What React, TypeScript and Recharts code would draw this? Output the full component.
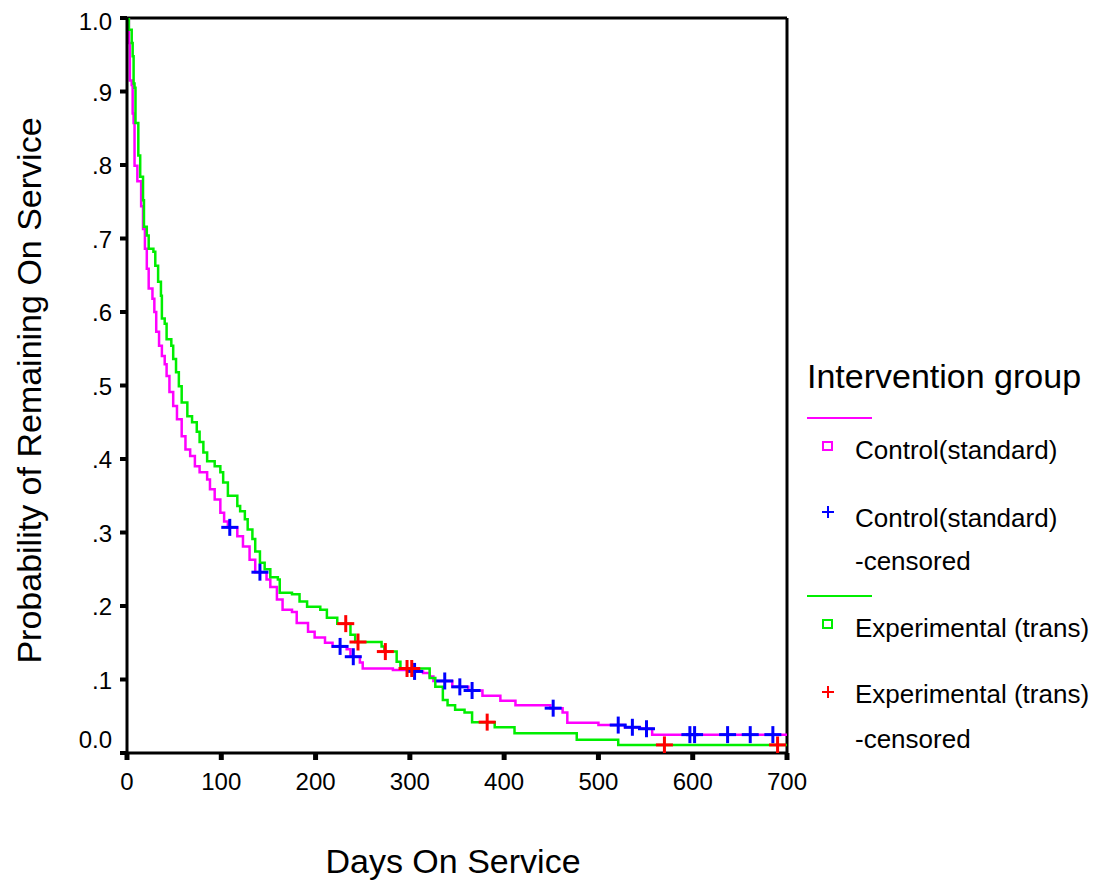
import { ComposedChart, Line, Scatter, XAxis, YAxis, ReferenceLine } from 'recharts';

const FONT = '"Liberation Sans", Arial, Helvetica, sans-serif';

const xTicks = [0, 100, 200, 300, 400, 500, 600, 700];
const yTicks = [0, 0.1, 0.2, 0.3, 0.4, 0.5, 0.6, 0.7, 0.8, 0.9, 1];

// Control (standard) - Kaplan-Meier steps
const controlDays = [
  0, 2, 3, 5, 6, 7, 8, 11, 15, 17, 19, 21, 23, 27, 29, 31, 34, 37, 40, 42,
  45, 49, 53, 58, 62, 67, 72, 77, 85, 88, 93, 99, 103, 107, 117, 123, 130, 136, 148, 152,
  159, 165, 175, 180, 192, 199, 210, 218, 233, 237, 247, 250, 282, 303, 314, 321, 325, 345, 362, 377,
  396, 412, 449, 462, 467, 500, 528, 544, 557, 700,
];
const controlSurv = [
  1.0, 0.966, 0.915, 0.909, 0.87, 0.857, 0.799, 0.778, 0.744, 0.713, 0.686, 0.659, 0.632, 0.618, 0.6, 0.573, 0.554, 0.54, 0.529, 0.513,
  0.491, 0.472, 0.454, 0.431, 0.413, 0.404, 0.39, 0.382, 0.372, 0.359, 0.345, 0.327, 0.315, 0.307, 0.295, 0.281, 0.263, 0.246, 0.236, 0.226,
  0.209, 0.195, 0.192, 0.177, 0.165, 0.157, 0.15, 0.145, 0.141, 0.131, 0.123, 0.115, 0.113, 0.111, 0.109, 0.104, 0.098, 0.09, 0.085, 0.078,
  0.071, 0.065, 0.061, 0.055, 0.041, 0.038, 0.035, 0.033, 0.025, 0.025,
];
const controlCensDays = [109, 141, 226, 240, 305, 337, 353, 366, 452, 521, 536, 551, 597, 602, 637, 661, 685];
const controlCensSurv = [0.307, 0.246, 0.145, 0.131, 0.111, 0.098, 0.09, 0.085, 0.061, 0.038, 0.035, 0.033, 0.025, 0.025, 0.025, 0.025, 0.025];

// Experimental (trans)
const expDays = [
  0, 2, 5, 6, 7, 8, 9, 12, 14, 17, 18, 21, 23, 28, 30, 33, 36, 37, 40, 42,
  47, 49, 52, 55, 58, 64, 69, 74, 77, 81, 85, 93, 99, 102, 107, 117, 120, 125, 128, 133,
  136, 141, 146, 152, 160, 162, 175, 183, 191, 205, 212, 223, 237, 242, 270, 273, 286, 290, 321, 327,
  335, 340, 348, 358, 366, 390, 411, 477, 521, 700,
];
const expSurv = [
  1.0, 0.984, 0.966, 0.948, 0.911, 0.905, 0.857, 0.813, 0.784, 0.752, 0.716, 0.704, 0.686, 0.682, 0.663, 0.641, 0.622, 0.591, 0.584, 0.563,
  0.554, 0.536, 0.518, 0.499, 0.477, 0.458, 0.45, 0.437, 0.423, 0.409, 0.397, 0.39, 0.382, 0.368, 0.35, 0.336, 0.329, 0.318, 0.304, 0.291,
  0.274, 0.259, 0.25, 0.239, 0.236, 0.218, 0.216, 0.206, 0.199, 0.195, 0.184, 0.176, 0.161, 0.151, 0.145, 0.138, 0.124, 0.115, 0.102, 0.09,
  0.072, 0.065, 0.059, 0.055, 0.042, 0.035, 0.027, 0.018, 0.011, 0.011,
];
const expCensDays = [232, 245, 274, 297, 302, 382, 570, 690];
const expCensSurv = [0.176, 0.151, 0.138, 0.115, 0.115, 0.042, 0.011, 0.011];

const toRows = (days: number[], surv: number[]) => days.map((d, i) => ({ day: d, surv: surv[i] }));

const controlData = toRows(controlDays, controlSurv);
const controlCens = toRows(controlCensDays, controlCensSurv);
const expData = toRows(expDays, expSurv);
const expCens = toRows(expCensDays, expCensSurv);

const MAGENTA = '#ff00ff';
const GREEN = '#00ee00';
const BLUE = '#0000ff';
const RED = '#ff0000';

const plusShape = (color: string) => (props: any) => {
  const { cx, cy } = props;
  return (
    <g>
      <line x1={cx - 8.5} x2={cx + 8.5} y1={cy} y2={cy} stroke={color} strokeWidth={3} />
      <line x1={cx} x2={cx} y1={cy - 8.5} y2={cy + 8.5} stroke={color} strokeWidth={3} />
    </g>
  );
};

function YTick(props: any) {
  const { x, y, payload } = props;
  const v = payload.value;
  const label = v === 0 ? '0.0' : v === 1 ? '1.0' : '.' + Math.round(v * 10);
  const dy = v === 0 ? -5 : v === 1 ? 12 : 9;
  return (
    <text x={x} y={y + dy} textAnchor="end" fontSize={24} fontFamily={FONT} fill="#000">
      {label}
    </text>
  );
}

function YTitle(props: any) {
  const { viewBox } = props;
  const cx = viewBox.x + 14;
  const cy = viewBox.y + viewBox.height / 2 + 5;
  return (
    <text x={cx} y={cy} transform={`rotate(-90 ${cx} ${cy})`} textAnchor="middle" fontSize={34} fontFamily={FONT} fill="#000">
      Probability of Remaining On Service
    </text>
  );
}

function XTitle(props: any) {
  const { viewBox } = props;
  return (
    <text x={viewBox.x + viewBox.width / 2 - 4} y={viewBox.y + 120} textAnchor="middle" fontSize={34} fontFamily={FONT} fill="#000">
      Days On Service
    </text>
  );
}

function LegendBox() {
  const t = { fontFamily: FONT, fill: '#000' };
  const plus = (cx: number, cy: number, c: string) => (
    <g>
      <line x1={cx - 6} x2={cx + 6} y1={cy} y2={cy} stroke={c} strokeWidth={2} />
      <line x1={cx} x2={cx} y1={cy - 6} y2={cy + 6} stroke={c} strokeWidth={2} />
    </g>
  );
  return (
    <svg width={310} height={420} style={{ position: 'absolute', left: 790, top: 340 }}>
      <g transform="translate(-790,-340)">
        <text x={807} y={388} fontSize={34} {...t}>Intervention group</text>
        <line x1={807} x2={872} y1={418} y2={418} stroke={MAGENTA} strokeWidth={2} />
        <rect x={823} y={442} width={9} height={8} fill="none" stroke={MAGENTA} strokeWidth={2} />
        <text x={855} y={459} fontSize={26} {...t}>Control(standard)</text>
        {plus(828, 512, BLUE)}
        <text x={855} y={527} fontSize={26} {...t}>Control(standard)</text>
        <text x={855} y={570} fontSize={26} {...t}>-censored</text>
        <line x1={807} x2={872} y1={596} y2={596} stroke={GREEN} strokeWidth={2} />
        <rect x={823} y={620} width={9} height={8} fill="none" stroke={GREEN} strokeWidth={2} />
        <text x={855} y={637} fontSize={26} {...t}>Experimental (trans)</text>
        {plus(828, 692, RED)}
        <text x={855} y={703} fontSize={26} {...t}>Experimental (trans)</text>
        <text x={855} y={748} fontSize={26} {...t}>-censored</text>
      </g>
    </svg>
  );
}

export default function App() {
  return (
    <div style={{ position: 'absolute', left: 0, top: 0, width: 1100, height: 882, background: '#fff' }}>
      <ComposedChart width={1100} height={882} margin={{ top: 18, right: 313, bottom: 69, left: 27 }}>
        <XAxis
          type="number"
          dataKey="day"
          domain={[0, 700]}
          ticks={xTicks}
          height={60}
          axisLine={{ stroke: '#000', strokeWidth: 3 }}
          tickLine={{ stroke: '#000', strokeWidth: 5 }}
          tickSize={7}
          tickMargin={13}
          tick={{ fontSize: 24, fontFamily: FONT, fill: '#000' }}
          label={{ content: <XTitle /> }}
          allowDataOverflow
        />
        <YAxis
          type="number"
          dataKey="surv"
          domain={[0, 1]}
          ticks={yTicks}
          width={100}
          axisLine={{ stroke: '#000', strokeWidth: 3 }}
          tickLine={{ stroke: '#000', strokeWidth: 4 }}
          tickSize={7}
          tickMargin={8}
          tick={<YTick />}
          label={{ content: <YTitle /> }}
          allowDataOverflow
        />
        <ReferenceLine y={1} stroke="#000" strokeWidth={3} />
        <ReferenceLine x={700} stroke="#000" strokeWidth={3} />
        <Line data={controlData} dataKey="surv" type="stepAfter" stroke={MAGENTA} strokeWidth={2.5} dot={false} isAnimationActive={false} />
        <Line data={expData} dataKey="surv" type="stepAfter" stroke={GREEN} strokeWidth={2.5} dot={false} isAnimationActive={false} />
        <Scatter data={controlCens} dataKey="surv" shape={plusShape(BLUE)} isAnimationActive={false} />
        <Scatter data={expCens} dataKey="surv" shape={plusShape(RED)} isAnimationActive={false} />
      </ComposedChart>
      <LegendBox />
    </div>
  );
}
